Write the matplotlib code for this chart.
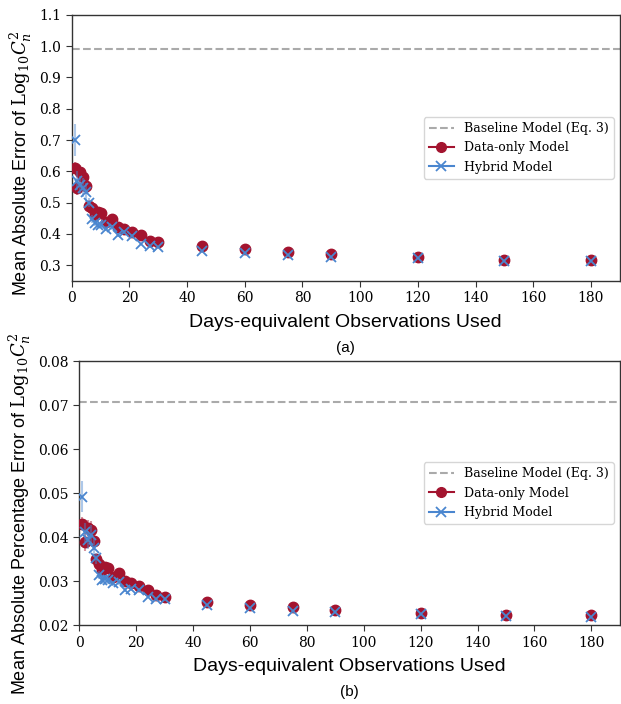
import matplotlib
matplotlib.use("Agg")
import matplotlib.pyplot as plt
from matplotlib.lines import Line2D
import numpy as np

days = [1, 2, 3, 4, 5, 6, 7, 8, 9, 10, 12, 14, 16, 18, 21, 24, 27, 30, 45, 60, 75, 90, 120, 150, 180]

# Panel (a): MAE
mae_data = [0.610, 0.548, 0.597, 0.581, 0.554, 0.490, 0.482, 0.462, 0.469, 0.466, 0.437, 0.448, 0.422, 0.417,
            0.407, 0.397, 0.378, 0.373, 0.360, 0.351, 0.342, 0.335, 0.325, 0.317, 0.317]
mae_data_err = [0.020, 0.025, 0.022, 0.025, 0.025, 0.012, 0.012, 0.010, 0.010, 0.010, 0.008, 0.008, 0.006, 0.006,
                0.005, 0.004, 0.004, 0.004, 0.003, 0.003, 0.003, 0.003, 0.002, 0.002, 0.002]
mae_hyb = [0.700, 0.570, 0.556, 0.548, 0.533, 0.500, 0.448, 0.434, 0.430, 0.428, 0.416, 0.421, 0.396, 0.405,
           0.394, 0.368, 0.360, 0.358, 0.347, 0.339, 0.332, 0.326, 0.322, 0.314, 0.312]
mae_hyb_err = [0.050, 0.030, 0.028, 0.030, 0.030, 0.015, 0.012, 0.010, 0.010, 0.010, 0.008, 0.008, 0.006, 0.006,
               0.005, 0.004, 0.004, 0.004, 0.003, 0.003, 0.003, 0.003, 0.002, 0.002, 0.002]
mae_base = 0.99

# Panel (b): MAPE
mape_data = [0.0431, 0.0389, 0.0421, 0.0416, 0.0391, 0.0350, 0.0340, 0.0325, 0.0333, 0.0329, 0.0310, 0.0318, 0.0300,
             0.0295, 0.0289, 0.0281, 0.0268, 0.0264, 0.0253, 0.0246, 0.0241, 0.0235, 0.0227, 0.0222, 0.0222]
mape_data_err = [0.0015, 0.0020, 0.0018, 0.0020, 0.0020, 0.0010, 0.0009, 0.0008, 0.0008, 0.0008, 0.0006, 0.0006,
                 0.0005, 0.0005, 0.0004, 0.0003, 0.0003, 0.0003, 0.0002, 0.0002, 0.0002, 0.0002, 0.0002, 0.0002, 0.0002]
mape_hyb = [0.0492, 0.0411, 0.0393, 0.0405, 0.0376, 0.0352, 0.0314, 0.0302, 0.0305, 0.0302, 0.0295, 0.0298, 0.0280,
            0.0283, 0.0280, 0.0264, 0.0259, 0.0259, 0.0245, 0.0239, 0.0233, 0.0230, 0.0225, 0.0220, 0.0219]
mape_hyb_err = [0.0035, 0.0022, 0.0020, 0.0022, 0.0022, 0.0012, 0.0010, 0.0008, 0.0008, 0.0008, 0.0006, 0.0006,
                0.0005, 0.0005, 0.0004, 0.0003, 0.0003, 0.0003, 0.0002, 0.0002, 0.0002, 0.0002, 0.0002, 0.0002, 0.0002]
mape_base = 0.0707

legend_labels = ["Baseline Model (Eq. 3)", "Data-only Model", "Hybrid Model"]
xlabel = "Days-equivalent Observations Used"

RED = "#a3142f"
BLUE = "#4a86cf"
GRAY = "#aaaaaa"

plt.rcParams['mathtext.fontset'] = 'dejavuserif'
SANS = ['Liberation Sans', 'DejaVu Sans']
SERIF = ['DejaVu Serif']

fig = plt.figure(figsize=(6.21, 7.04), dpi=100)
ax1 = fig.add_axes([0.1155, 0.601, 0.8825, 0.378])
ax2 = fig.add_axes([0.1277, 0.112, 0.8703, 0.375])


def draw(ax, data, derr, hyb, herr, base, ylim, yticks, yfmt, ylabel, label_y, tag):
    ax.axhline(base, color=GRAY, ls='--', lw=1.5, zorder=1)
    ax.errorbar(days, data, yerr=derr, fmt='o', color=RED, ms=7.5, ecolor=RED, elinewidth=1.5,
                capsize=0, zorder=3)
    ax.errorbar(days, hyb, yerr=herr, fmt='x', color=BLUE, ms=7, mew=1.3, ecolor=BLUE,
                elinewidth=1.5, capsize=0, zorder=4)
    for coll in ax.collections:
        coll.set_alpha(0.45)
    ax.set_xlim(0, 190)
    ax.set_ylim(*ylim)
    ax.set_yticks(yticks)
    ax.set_yticklabels([yfmt.format(v) for v in yticks], family=SERIF, fontsize=10)
    xt = list(range(0, 181, 20))
    ax.set_xticks(xt)
    ax.set_xticklabels([str(v) for v in xt], family=SERIF, fontsize=10)
    ax.set_xlabel(xlabel, family=SANS, fontsize=14, labelpad=6)
    ax.set_ylabel(ylabel, family=SANS, fontsize=13)
    ax.yaxis.label.set_y(label_y)
    for s in ax.spines.values():
        s.set_color('#333333')
        s.set_linewidth(1.0)
    ax.tick_params(colors='#333333', labelcolor='black', length=4)
    handles = [
        Line2D([], [], color=GRAY, ls='--', lw=1.5),
        Line2D([], [], color=RED, marker='o', ms=7, lw=1.5),
        Line2D([], [], color=BLUE, marker='x', ms=7, mew=1.3, lw=1.5),
    ]
    leg = ax.legend(handles, legend_labels, loc='center right', bbox_to_anchor=(1.0, 0.50),
                    prop={'family': SERIF, 'size': 9}, frameon=True, fancybox=True,
                    borderaxespad=0.5)
    leg.get_frame().set_edgecolor('#cccccc')
    ax.text(0.5, -0.225, tag, transform=ax.transAxes, ha='center', va='top',
            family=SANS, fontsize=11)


draw(ax1, mae_data, mae_data_err, mae_hyb, mae_hyb_err, mae_base, (0.25, 1.1),
     [0.3, 0.4, 0.5, 0.6, 0.7, 0.8, 0.9, 1.0, 1.1], "{:.1f}",
     r"Mean Absolute Error of $\mathrm{Log}_{10}C_n^2$", 0.44, "(a)")
draw(ax2, mape_data, mape_data_err, mape_hyb, mape_hyb_err, mape_base, (0.02, 0.08),
     [0.02, 0.03, 0.04, 0.05, 0.06, 0.07, 0.08], "{:.2f}",
     r"Mean Absolute Percentage Error of $\mathrm{Log}_{10}C_n^2$", 0.42, "(b)")

fig.savefig("out.png", dpi=100)
